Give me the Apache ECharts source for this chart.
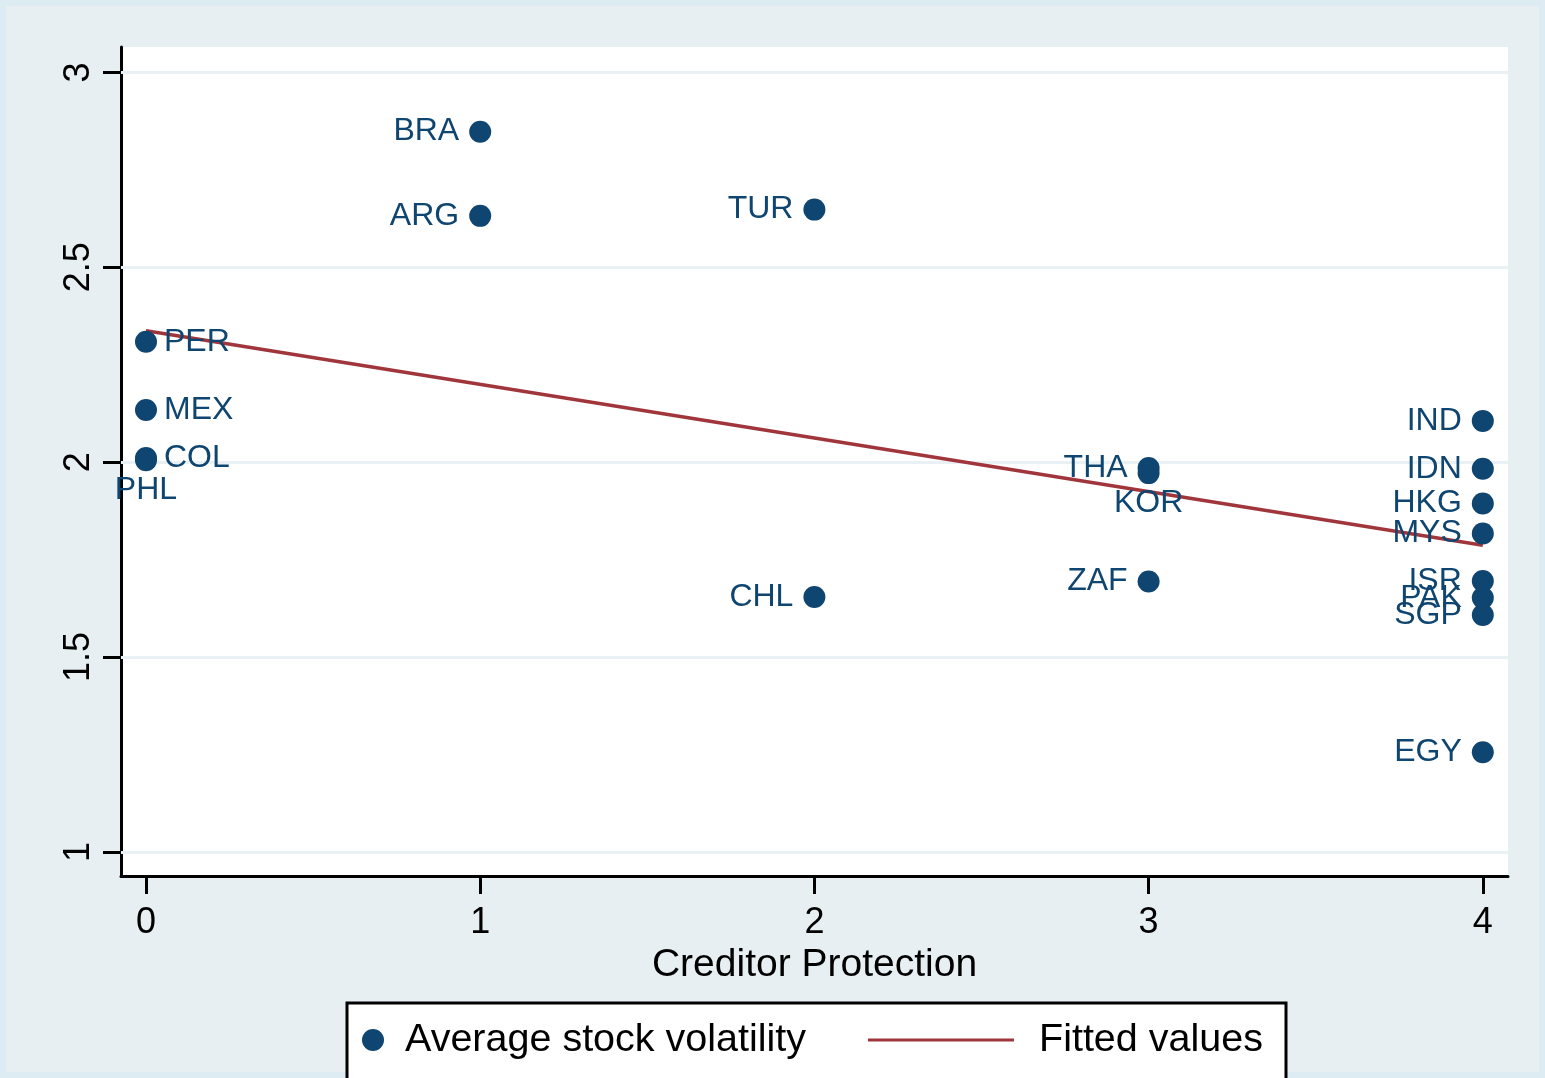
<!DOCTYPE html>
<html>
<head>
<meta charset="utf-8">
<script src="https://cdn.jsdelivr.net/npm/echarts@6/dist/echarts.min.js"></script>
<style>
html,body{margin:0;padding:0;background:#e8eff2;}
#chart{width:1545px;height:1078px;}
</style>
</head>
<body>
<div id="chart"></div>
<script>
// ---- data ----
const countries = ['BRA','ARG','TUR','PER','MEX','COL','PHL','THA','KOR','ZAF','CHL','IND','IDN','HKG','MYS','ISR','PAK','SGP','EGY'];
const creditorProtection = [1,1,2,0,0,0,0,3,3,3,2,4,4,4,4,4,4,4,4];
const stockVolatility = [2.848,2.632,2.648,2.309,2.134,2.011,2.005,1.985,1.972,1.694,1.654,2.106,1.983,1.894,1.817,1.695,1.652,1.608,1.256];
const fittedX = [0,4];
const fittedY = [2.337,1.787];
const xTicks = [0,1,2,3,4];
const yTicks = [1,1.5,2,2.5,3];

// ---- styles ----
const FONT = "'Liberation Sans', Arial, sans-serif";
const NAVY = '#0f4571';
const MAROON = '#a0363c';
const labelSide = {PER:'right', MEX:'right', COL:'right', PHL:'bottom', KOR:'bottom'};

const scatterData = countries.map((c,i)=>{
  const pos = labelSide[c] || 'left';
  return {
    name: c,
    value: [creditorProtection[i], stockVolatility[i]],
    label: {position: pos, distance: pos==='left' ? 10 : (pos==='right' ? 7 : 3)}
  };
});

const chart = echarts.init(document.getElementById('chart'), null, {renderer:'canvas'});
chart.setOption({
  backgroundColor: '#e8eff2',
  animation: false,
  textStyle: {fontFamily: FONT},
  graphic: [
    {type:'rect', z:-10, silent:true, shape:{x:0,y:0,width:1545,height:1078}, style:{fill:'none', stroke:'#dcecf2', lineWidth:12}},
    {type:'rect', z:0, silent:true, shape:{x:347,y:1003,width:939,height:100}, style:{fill:'#ffffff', stroke:'#000000', lineWidth:3}}
  ],
  grid: {left:121, right:37, top:47, bottom:202, show:true, backgroundColor:'#ffffff', borderWidth:0},
  xAxis: {
    type:'value', min:-0.0748, max:4.0754,
    axisLine:{show:true, onZero:false, lineStyle:{color:'#000', width:3}},
    axisTick:{show:true, length:18, lineStyle:{color:'#000', width:3}, customValues: xTicks},
    axisLabel:{show:true, customValues: xTicks, fontSize:36, color:'#000', margin:29, fontFamily:FONT},
    splitLine:{show:false},
    name:'Creditor Protection', nameLocation:'middle', nameGap:62,
    nameTextStyle:{fontSize:39, color:'#000', fontFamily:FONT}
  },
  yAxis: {
    type:'value', min:0.9384, max:3.0652,
    axisLine:{show:true, onZero:false, lineStyle:{color:'#000', width:3}},
    axisTick:{show:true, length:18, lineStyle:{color:'#000', width:3}, customValues: yTicks},
    axisLabel:{show:true, customValues: yTicks, rotate:90, fontSize:36, color:'#000', margin:24, fontFamily:FONT},
    splitLine:{show:false}
  },
  legend: [
    {data:['Average stock volatility'], left:357, top:1015, icon:'circle', itemWidth:54, itemHeight:22,
     textStyle:{fontSize:39.5, color:'#000', fontFamily:FONT}},
    {data:['Fitted values'], left:863, top:1015, icon:'rect', itemWidth:146, itemHeight:3,
     itemStyle:{color:MAROON},
     textStyle:{fontSize:39.5, color:'#000', fontFamily:FONT, padding:[0,0,0,20]}}
  ],
  series: [
    {
      type:'line', name:'grid', data:[], z:1, silent:true,
      markLine:{z:1, silent:true, symbol:['none','none'], animation:false,
        lineStyle:{color:'#eaf1f4', width:3, type:'solid'}, label:{show:false},
        data: yTicks.map(v=>({yAxis:v}))}
    },
    {
      type:'line', name:'Fitted values', z:3,
      data: fittedX.map((x,i)=>[x, fittedY[i]]),
      symbol:'none', lineStyle:{color:MAROON, width:3.5}, itemStyle:{color:MAROON}
    },
    {
      type:'scatter', name:'Average stock volatility', z:4,
      symbol:'circle', symbolSize:22,
      itemStyle:{color:NAVY, opacity:1},
      data: scatterData,
      label:{show:true, formatter:'{b}', fontSize:32, color:NAVY, fontFamily:FONT}
    }
  ]
});
</script>
</body>
</html>
